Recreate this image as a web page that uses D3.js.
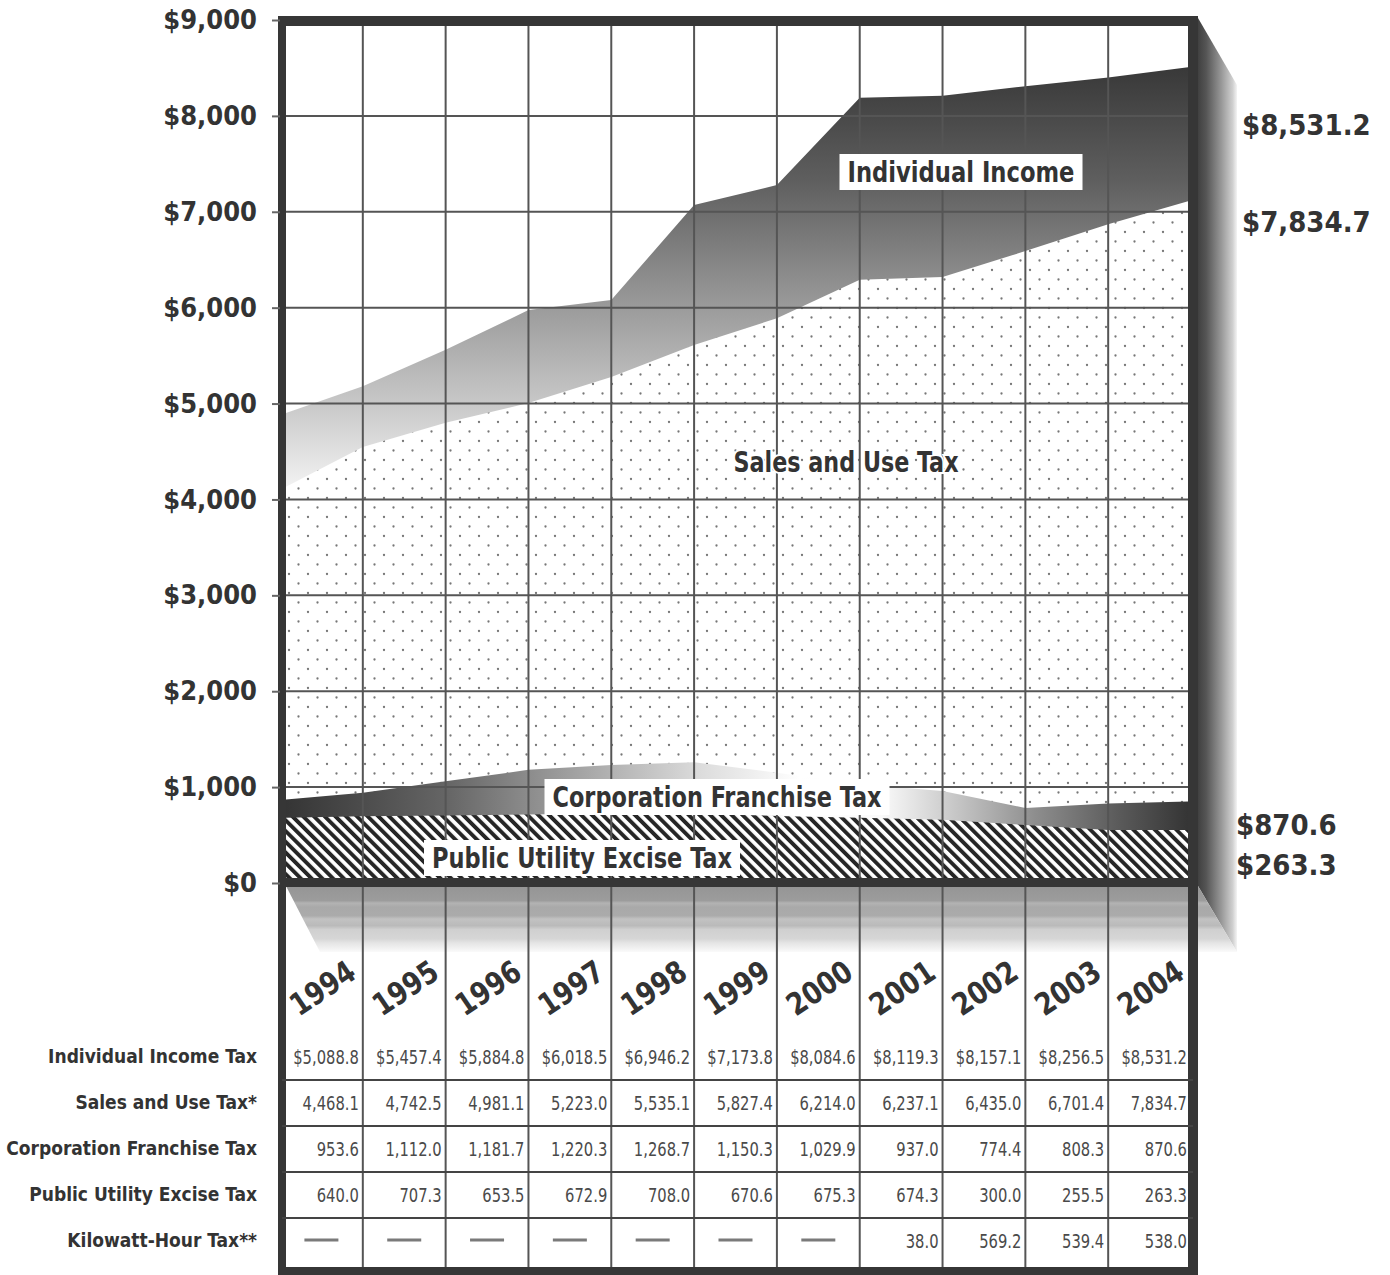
<!DOCTYPE html>
<html>
<head>
<meta charset="utf-8">
<script src="https://cdn.jsdelivr.net/npm/d3@7"></script>
<style>
  body { margin: 0; background: #fff; }
  text { font-family: 'DejaVu Sans Condensed', 'DejaVu Sans', sans-serif; font-stretch: condensed; }
  .bold { font-weight: bold; fill: #333; }
  .val { fill: #4a4a4a; }
</style>
</head>
<body>
<script>
// fiscal years shown in the table
const years = [1994, 1995, 1996, 1997, 1998, 1999, 2000, 2001, 2002, 2003, 2004];

// table values ($ millions)
const incomeTax  = [5088.8, 5457.4, 5884.8, 6018.5, 6946.2, 7173.8, 8084.6, 8119.3, 8157.1, 8256.5, 8531.2];
const salesTax   = [4468.1, 4742.5, 4981.1, 5223.0, 5535.1, 5827.4, 6214.0, 6237.1, 6435.0, 6701.4, 7834.7];
const corpTax    = [953.6, 1112.0, 1181.7, 1220.3, 1268.7, 1150.3, 1029.9, 937.0, 774.4, 808.3, 870.6];
const utilityTax = [640.0, 707.3, 653.5, 672.9, 708.0, 670.6, 675.3, 674.3, 300.0, 255.5, 263.3];
const kwhTax     = [null, null, null, null, null, null, null, 38.0, 569.2, 539.4, 538.0];

const rowNames = ["Individual Income Tax", "Sales and Use Tax*", "Corporation Franchise Tax",
                  "Public Utility Excise Tax", "Kilowatt-Hour Tax**"];

// outlines of the areas as drawn in the picture (left edge, then one point per year end)
const edgeYears    = [1993, ...years];
const incomeArea   = [4880, 5180, 5560, 5975, 6080, 7070, 7278, 8190, 8210, 8310, 8400, 8510];
const salesArea    = [4100, 4546, 4800, 5005, 5276, 5610, 5890, 6290, 6320, 6590, 6870, 7120];
const corpArea     = [865, 940, 1060, 1180, 1230, 1260, 1150, 1030, 960, 782, 830, 850];
const utilityArea  = [680, 695, 705, 715, 725, 720, 700, 680, 660, 605, 553, 553];

const yTicks = [0, 1000, 2000, 3000, 4000, 5000, 6000, 7000, 8000, 9000];

const width = 1390, height = 1275;
const frameL = 282, frameR = 1193, frameTop = 21, baseY = 883, tableBottom = 1271;
const depth = 44;

const x = d3.scaleLinear().domain([1993, 2004]).range([280, 1191]);
const y = d3.scaleLinear().domain([0, 9000]).range([baseY, 20]);
const row = d3.scalePoint().domain(rowNames).range([1056, 1240]);

const svg = d3.select("body").append("svg")
    .attr("width", width)
    .attr("height", height)
    .attr("viewBox", [0, 0, width, height]);

const defs = svg.append("defs");

// income: dark at the top, fading to near white
const gInc = defs.append("linearGradient").attr("id", "incGrad")
    .attr("gradientUnits", "userSpaceOnUse").attr("x1", 0).attr("x2", 0).attr("y1", 60).attr("y2", 495);
[[0, "#363636"], [0.28, "#5f5f5f"], [0.55, "#979797"], [0.78, "#c6c6c6"], [1, "#f6f6f6"]]
  .forEach(([o, c]) => gInc.append("stop").attr("offset", o).attr("stop-color", c));

// corporation: dark at both ends, white in the middle
const gCorp = defs.append("linearGradient").attr("id", "corpGrad")
    .attr("gradientUnits", "userSpaceOnUse").attr("x1", 286).attr("x2", 1188).attr("y1", 0).attr("y2", 0);
[[0, "#353535"], [0.18, "#666"], [0.3, "#999"], [0.46, "#dcdcdc"], [0.57, "#fff"], [0.66, "#fafafa"],
 [0.74, "#c8c8c8"], [0.83, "#8e8e8e"], [0.92, "#5c5c5c"], [1, "#353535"]]
  .forEach(([o, c]) => gCorp.append("stop").attr("offset", o).attr("stop-color", c));

// right face of the box
const gSide = defs.append("linearGradient").attr("id", "sideGrad")
    .attr("gradientUnits", "userSpaceOnUse").attr("x1", frameR).attr("x2", frameR + depth).attr("y1", 0).attr("y2", 0);
[[0, "#343434"], [0.3, "#555"], [0.65, "#999"], [0.9, "#cfcfcf"], [1, "#f4f4f4"]]
  .forEach(([o, c]) => gSide.append("stop").attr("offset", o).attr("stop-color", c));

// bottom face, banded
const gFloor = defs.append("linearGradient").attr("id", "floorGrad")
    .attr("gradientUnits", "userSpaceOnUse").attr("x1", 0).attr("x2", 0).attr("y1", 886).attr("y2", 952);
[[0, "#959595"], [0.22, "#9c9c9c"], [0.26, "#b3b3b3"], [0.32, "#a9a9a9"], [0.45, "#ababab"], [0.5, "#c2c2c2"],
 [0.6, "#bababa"], [0.66, "#d0d0d0"], [0.8, "#d6d6d6"], [0.86, "#e4e4e4"], [1, "#fafafa"]]
  .forEach(([o, c]) => gFloor.append("stop").attr("offset", o).attr("stop-color", c));

// dotted fill for sales
const dots = defs.append("pattern").attr("id", "dots")
    .attr("patternUnits", "userSpaceOnUse").attr("width", 19).attr("height", 19);
dots.append("rect").attr("width", 19).attr("height", 19).attr("fill", "#fff");
dots.append("circle").attr("cx", 4).attr("cy", 4).attr("r", 1.15).attr("fill", "#777");
dots.append("circle").attr("cx", 13.5).attr("cy", 13.5).attr("r", 1.15).attr("fill", "#777");

// hatch for public utility
const hatch = defs.append("pattern").attr("id", "hatch")
    .attr("patternUnits", "userSpaceOnUse").attr("width", 7.6).attr("height", 7.6)
    .attr("patternTransform", "rotate(-45)");
hatch.append("rect").attr("width", 7.6).attr("height", 7.6).attr("fill", "#fff");
hatch.append("rect").attr("width", 3.9).attr("height", 7.6).attr("fill", "#262626");

defs.append("clipPath").attr("id", "plotClip")
  .append("rect").attr("x", 286).attr("y", 25).attr("width", 902).attr("height", baseY - 25);

// 3D faces
svg.append("path")
    .attr("d", `M${frameR + 5},${frameTop - 3}L${frameR + depth},${frameTop + 64}L${frameR + depth},952L${frameR + 5},${baseY + 3}Z`)
    .attr("fill", "url(#sideGrad)");
svg.append("path")
    .attr("d", `M286,${baseY + 3}L${frameR + 5},${baseY + 3}L${frameR + depth},952L320,952Z`)
    .attr("fill", "url(#floorGrad)");

// areas
const area = d3.area()
    .x((d, i) => x(edgeYears[i]))
    .y0(y(0))
    .y1(d => y(d));

const plot = svg.append("g").attr("clip-path", "url(#plotClip)");
plot.append("path").datum(incomeArea).attr("d", area).attr("fill", "url(#incGrad)");
plot.append("path").datum(salesArea).attr("d", area).attr("fill", "url(#dots)");
plot.append("path").datum(corpArea).attr("d", area).attr("fill", "url(#corpGrad)");

// grid
svg.append("g")
    .attr("stroke", "#555").attr("stroke-width", 2)
  .selectAll("line")
  .data(yTicks.slice(1, -1))
  .join("line")
    .attr("x1", frameL).attr("x2", frameR)
    .attr("y1", d => y(d)).attr("y2", d => y(d));

svg.append("g")
    .attr("stroke", "#555").attr("stroke-width", 2)
  .selectAll("line")
  .data(years.slice(0, -1))
  .join("line")
    .attr("x1", d => x(d)).attr("x2", d => x(d))
    .attr("y1", frameTop).attr("y2", tableBottom);

plot.append("path").datum(utilityArea).attr("d", area).attr("fill", "url(#hatch)");

// labels inside the chart
function boxedLabel(txt, cx, cy, len, boxed) {
  const g = svg.append("g");
  const t = g.append("text").attr("class", "bold")
      .attr("x", cx).attr("y", cy)
      .attr("text-anchor", "middle").attr("dominant-baseline", "central")
      .attr("font-size", 28)
      .attr("textLength", len).attr("lengthAdjust", "spacingAndGlyphs")
      .text(txt);
  if (boxed) {
    const b = t.node().getBBox();
    g.insert("rect", "text")
        .attr("x", b.x - 8).attr("y", cy - 18)
        .attr("width", b.width + 16).attr("height", 36)
        .attr("fill", "#fff");
  } else {
    t.attr("stroke", "#fff").attr("stroke-width", 4).attr("paint-order", "stroke");
  }
}
boxedLabel("Individual Income", 961, 172, 227, true);
boxedLabel("Sales and Use Tax", 846, 462, 225, false);
boxedLabel("Corporation Franchise Tax", 717, 797, 329, true);
boxedLabel("Public Utility Excise Tax", 582, 858, 300, true);

// frame
const frame = svg.append("g").attr("fill", "#363636");
frame.append("rect").attr("x", frameL - 4).attr("y", frameTop - 5).attr("width", 8).attr("height", height - frameTop + 5);
frame.append("rect").attr("x", frameR - 5).attr("y", frameTop - 5).attr("width", 10).attr("height", height - frameTop + 5);
frame.append("rect").attr("x", frameL - 4).attr("y", frameTop - 5).attr("width", frameR - frameL + 9).attr("height", 10);
frame.append("rect").attr("x", frameL - 4).attr("y", baseY - 5).attr("width", frameR - frameL + 9).attr("height", 9);
frame.append("rect").attr("x", frameL - 4).attr("y", tableBottom - 4).attr("width", frameR - frameL + 9).attr("height", 8);

// y axis
svg.append("g")
    .attr("transform", `translate(${frameL - 2},0)`)
    .call(d3.axisLeft(y).tickValues(yTicks).tickFormat(d3.format("$,")).tickSize(8).tickPadding(15))
    .call(g => g.select(".domain").remove())
    .call(g => g.selectAll(".tick line").attr("stroke", "#666").attr("stroke-width", 2))
    .call(g => g.selectAll(".tick text").attr("class", "bold").attr("font-size", 27)
        .attr("font-family", null).attr("fill", "#333"));

// end values on the right
const endLabels = [
  [d3.format("$,.1f")(incomeTax[10]), 125],
  [d3.format("$,.1f")(salesTax[10]), 222],
  [d3.format("$,.1f")(corpTax[10]), 825],
  [d3.format("$,.1f")(utilityTax[10]), 865]
];
svg.append("g").selectAll("text").data(endLabels).join("text")
    .attr("class", "bold").attr("font-size", 29)
    .attr("x", d => d[1] < 500 ? 1242 : 1236).attr("y", d => d[1])
    .attr("dominant-baseline", "central")
    .text(d => d[0]);

// year labels, slanted
svg.append("g").selectAll("text").data(years).join("text")
    .attr("class", "bold").attr("font-size", 31)
    .attr("text-anchor", "middle").attr("dominant-baseline", "central")
    .attr("transform", d => `translate(${(x(d - 1) + x(d)) / 2 + 1},988) rotate(-34) scale(0.92,1)`)
    .text(d => d);

// table
svg.append("g")
    .attr("stroke", "#444").attr("stroke-width", 2)
  .selectAll("line")
  .data(rowNames.slice(1))
  .join("line")
    .attr("x1", frameL).attr("x2", frameR)
    .attr("y1", d => row(d) - row.step() / 2 + 1).attr("y2", d => row(d) - row.step() / 2 + 1);

svg.append("g").selectAll("text").data(rowNames).join("text")
    .attr("class", "bold").attr("font-size", 19)
    .attr("x", 257).attr("y", d => row(d))
    .attr("text-anchor", "end").attr("dominant-baseline", "central")
    .text(d => d);

const rows = [
  [incomeTax, d3.format("$,.1f")],
  [salesTax, d3.format(",.1f")],
  [corpTax, d3.format(",.1f")],
  [utilityTax, d3.format(",.1f")],
  [kwhTax, d3.format(",.1f")]
];
const cells = [];
rows.forEach(([vals, fmt], r) => vals.forEach((v, i) => cells.push({ r: rowNames[r], year: years[i], v, fmt })));

// narrow figures: squeeze the condensed face horizontally
svg.append("g").selectAll("text").data(cells.filter(d => d.v != null)).join("text")
    .attr("class", "val").attr("font-size", 20)
    .attr("transform", d => `translate(${x(d.year) - 4},${row(d.r) + 1}) scale(0.82,1)`)
    .attr("text-anchor", "end").attr("dominant-baseline", "central")
    .text(d => d.fmt(d.v));

svg.append("g")
    .attr("stroke", "#7a7a7a").attr("stroke-width", 3)
  .selectAll("line")
  .data(cells.filter(d => d.v == null))
  .join("line")
    .attr("x1", d => (x(d.year - 1) + x(d.year)) / 2 - 17)
    .attr("x2", d => (x(d.year - 1) + x(d.year)) / 2 + 17)
    .attr("y1", d => row(d.r)).attr("y2", d => row(d.r));
</script>
</body>
</html>
